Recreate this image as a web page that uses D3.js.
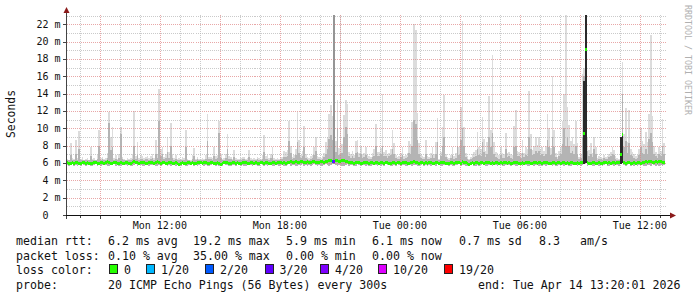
<!DOCTYPE html>
<html>
<head>
<meta charset="utf-8">
<script src="https://cdn.jsdelivr.net/npm/d3@7"></script>
<style>
  html, body { margin: 0; padding: 0; background: #fff; }
  svg { display: block; }
  text { font-family: "DejaVu Sans Mono", monospace; fill: #111; white-space: pre; }
</style>
</head>
<body>
<svg width="697" height="297"></svg>
<script>
// 5 minute steps, Mon 07:20 .. Tue 13:20
var startTime = new Date(2026, 3, 13, 7, 20, 1);
var endTime = new Date(2026, 3, 14, 13, 20, 1);
var STEP = 300 * 1000;

// highest ping of each step (ms)
var pingMax = [
  6.5,6.4,8.3,6.6,6.5,8.6,6.6,9.7,6.5,6.7,6.4,6.5,6.6,6.4,7.8,6.5,6.6,6.4,6.9,9.8,
  6.6,6.7,6.5,6.6,7.2,11.9,9.0,10.1,6.6,6.9,6.5,7.0,10.1,6.7,6.5,6.4,6.6,6.5,6.6,7.0,
  12.0,6.8,8.4,6.6,6.9,6.8,6.6,6.7,6.8,6.6,6.8,7.0,6.6,8.6,7.0,14.5,7.6,7.9,6.7,7.0,
  9.0,7.3,10.6,7.0,6.6,6.9,6.5,6.6,6.5,6.7,6.6,9.8,6.5,6.4,6.3,6.9,7.7,6.5,6.7,6.5,
  6.5,6.6,6.5,6.9,11.6,6.7,6.7,6.6,7.9,6.8,6.9,10.8,7.0,6.5,6.6,7.0,9.4,6.8,6.7,6.5,
  7.5,6.6,6.5,6.5,6.6,6.7,6.7,6.5,6.6,7.5,6.6,6.5,6.6,6.5,6.7,6.6,6.5,6.9,9.2,6.8,
  6.9,6.6,7.0,7.8,6.6,6.5,6.6,6.5,6.7,6.7,7.4,7.3,7.5,10.8,8.0,6.7,6.9,7.6,11.9,8.7,
  6.9,7.4,10.3,7.0,6.7,6.6,6.8,6.9,7.9,9.0,6.8,6.7,6.6,6.8,7.2,8.4,9.0,11.7,12.7,11.4,
  23.5,8.5,13.3,7.7,23.5,8.2,11.5,13.3,12.8,7.3,7.0,7.4,6.9,8.5,8.6,7.2,8.0,7.0,7.1,7.9,
  7.0,6.8,6.7,7.2,7.6,10.5,7.3,7.3,7.7,14.0,7.3,7.5,7.0,7.2,7.6,9.8,8.3,6.9,6.7,6.8,
  7.2,7.9,6.8,6.9,7.1,8.5,8.2,10.7,22.0,21.3,11.8,8.3,7.0,6.8,6.7,8.6,6.8,6.7,7.1,7.9,
  7.0,8.4,11.2,6.5,7.3,10.2,13.8,7.0,6.7,6.6,6.9,7.8,6.8,7.1,11.0,7.9,12.5,22.4,10.1,7.2,
  6.8,6.5,6.7,7.0,7.3,7.5,9.6,7.9,7.6,11.3,8.8,7.4,8.4,13.7,9.8,18.5,8.4,7.3,7.2,6.9,
  7.9,7.1,7.0,9.5,7.2,7.3,7.0,6.9,10.3,12.1,7.4,7.3,7.1,8.6,7.2,7.8,7.6,14.3,9.4,7.5,
  8.0,9.0,8.1,9.0,7.6,7.9,7.4,8.0,11.6,10.0,7.7,16.0,9.8,7.2,6.7,7.4,7.9,10.8,14.0,23.5,
  12.5,10.4,8.5,9.0,8.2,10.9,8.3,6.7,7.0,16.3,17.0,23.5,8.9,7.5,8.3,7.2,9.0,7.8,6.6,6.8,
  6.7,6.6,6.9,6.7,6.8,7.0,7.3,7.9,7.5,6.8,6.6,6.5,9.0,17.7,9.4,12.3,8.4,12.1,7.6,7.3,
  7.0,6.8,6.9,7.6,10.0,8.5,8.2,9.6,8.4,11.7,20.8,11.4,8.0,7.3,7.0,7.9,7.4,11.1,8.3,null
];

// upper edge of the denser part of the smoke (ms)
var pingMid = [
  6.4,6.3,6.9,6.4,6.3,7.0,6.4,7.6,6.4,6.4,6.3,6.4,6.4,6.3,6.8,6.4,6.4,6.3,6.5,8.0,
  6.4,6.5,6.4,6.4,6.6,10.6,7.5,7.8,6.4,6.5,6.4,6.6,9.3,6.5,6.4,6.3,6.4,6.4,6.4,6.5,
  8.0,6.5,6.9,6.4,6.5,6.5,6.4,6.5,6.5,6.4,6.5,6.6,6.4,7.0,6.6,10.8,6.8,7.0,6.5,6.6,
  7.3,6.6,8.0,6.6,6.4,6.5,6.3,6.4,6.3,6.4,6.4,7.8,6.3,6.3,6.2,6.5,6.8,6.4,6.5,6.4,
  6.4,6.4,6.4,6.5,8.5,6.5,6.5,6.4,6.8,6.5,6.6,9.5,6.6,6.4,6.4,6.6,7.6,6.5,6.5,6.4,
  6.7,6.4,6.4,6.4,6.4,6.5,6.5,6.4,6.4,6.7,6.4,6.4,6.4,6.4,6.5,6.4,6.4,6.5,7.3,6.5,
  6.5,6.4,6.6,6.9,6.4,6.4,6.4,6.4,6.5,6.5,6.7,6.7,6.8,8.5,7.2,6.5,6.6,6.9,8.4,7.2,
  6.6,6.8,7.8,6.6,6.5,6.4,6.5,6.6,6.9,7.4,6.5,6.5,6.4,6.5,6.7,7.0,7.6,8.8,9.2,8.6,
  23.5,7.3,10.0,6.9,7.0,7.2,9.0,10.2,9.4,6.8,6.6,6.8,6.6,7.2,7.3,6.7,7.0,6.6,6.7,6.9,
  6.6,6.5,6.5,6.7,6.8,8.0,6.8,6.8,7.0,8.0,6.8,6.8,6.6,6.8,6.9,7.6,7.0,6.6,6.5,6.5,
  6.7,6.9,6.5,6.6,6.7,7.1,7.0,8.0,11.0,10.5,8.6,7.0,6.6,6.5,6.5,7.0,6.5,6.5,6.6,6.9,
  6.6,7.0,8.4,6.4,6.8,8.0,9.0,6.7,6.5,6.4,6.6,6.9,6.5,6.6,8.0,6.9,8.6,10.0,8.0,6.7,
  6.5,6.4,6.5,6.6,6.7,6.8,7.6,6.9,6.8,8.4,7.3,6.7,7.0,9.0,7.8,9.5,7.0,6.7,6.6,6.5,
  6.9,6.6,6.6,7.6,6.7,6.8,6.6,6.5,7.8,8.0,6.8,6.8,6.6,7.2,6.7,6.9,6.8,9.0,7.6,6.9,
  7.0,7.4,7.1,7.4,6.9,7.0,6.8,7.0,8.6,7.8,6.9,9.0,7.8,6.7,6.5,6.8,7.0,8.2,10.0,8.0,
  9.0,8.0,7.2,7.4,7.0,8.0,7.0,6.5,6.6,9.0,16.0,23.5,7.4,6.8,7.0,6.7,7.6,7.0,6.4,6.5,
  6.5,6.4,6.6,6.5,6.5,6.7,6.8,7.0,6.9,6.5,6.4,6.4,9.0,14.0,7.8,8.5,7.2,8.3,6.9,6.8,
  6.6,6.5,6.6,6.9,7.8,7.2,7.0,7.6,7.0,8.8,9.5,8.4,7.0,6.8,6.6,7.0,6.8,8.0,7.0,null
];

// lowest ping of each step (ms)
var pingMin = [
  5.8,5.7,5.8,5.9,5.7,5.8,5.6,5.8,5.7,5.9,5.8,5.7,5.8,5.8,5.6,5.7,5.8,5.9,5.7,5.8,
  5.7,5.8,5.9,5.8,5.6,5.7,5.8,5.8,5.9,5.7,5.8,5.6,5.7,5.8,5.9,5.8,5.7,5.8,5.6,5.7,
  5.8,5.9,5.7,5.8,5.8,5.6,5.7,5.9,5.8,5.7,5.8,5.8,5.9,5.7,5.6,5.8,5.7,5.8,5.9,5.8,
  5.7,5.8,5.6,5.8,5.9,5.7,5.8,5.8,5.7,5.9,5.8,5.7,5.6,5.8,5.8,5.9,5.7,5.8,5.7,5.8,
  5.9,5.8,5.7,5.8,5.6,5.7,5.8,5.9,5.8,5.7,5.8,5.6,5.8,5.7,5.9,5.8,5.8,5.7,5.6,5.8,
  5.8,5.7,5.9,5.8,5.7,5.8,5.6,5.7,5.8,5.9,5.8,5.7,5.8,5.8,5.6,5.7,5.9,5.8,5.7,5.8,
  5.7,5.8,5.8,5.6,5.7,5.9,5.8,5.7,5.8,5.8,5.6,5.7,5.8,5.9,5.7,5.8,5.8,5.7,5.6,5.8,
  5.8,5.9,5.7,5.8,5.6,5.8,5.7,5.8,5.9,5.8,5.7,5.8,5.7,5.6,5.8,5.9,5.8,5.7,5.8,5.9,
  5.9,5.8,5.7,5.8,5.8,5.6,5.7,5.8,5.9,5.7,5.8,5.8,5.6,5.7,5.9,5.8,5.7,5.8,5.8,5.7,
  5.8,5.6,5.7,5.8,5.9,5.8,5.7,5.8,5.6,5.8,5.7,5.9,5.8,5.8,5.7,5.6,5.8,5.7,5.9,5.8,
  5.7,5.8,5.8,5.6,5.7,5.9,5.8,5.7,5.8,5.8,5.6,5.7,5.8,5.9,5.7,5.8,5.6,5.8,5.7,5.8,
  5.8,5.7,5.9,5.8,5.6,5.7,5.8,5.8,5.9,5.7,5.8,5.6,5.7,5.8,5.8,5.9,5.7,5.8,5.8,5.6,
  5.7,5.8,5.8,5.9,5.7,5.6,5.8,5.7,5.8,5.9,5.8,5.7,5.6,5.8,5.8,5.7,5.9,5.8,5.7,5.8,
  5.8,5.7,5.6,5.8,5.9,5.8,5.7,5.8,5.8,5.6,5.7,5.9,5.8,5.7,5.8,5.8,5.6,5.7,5.9,5.8,
  5.7,5.8,5.9,5.7,5.8,5.6,5.8,5.7,5.8,5.9,5.8,5.7,5.8,5.6,5.7,5.8,5.9,5.8,5.7,5.8,
  5.8,5.6,5.7,5.8,5.9,5.8,5.7,5.8,5.6,5.8,5.9,6.0,5.7,5.8,5.8,5.6,5.7,5.9,5.8,5.7,
  5.8,5.7,5.8,5.9,5.6,5.7,5.8,5.8,5.7,5.9,5.8,5.6,5.9,6.0,5.8,5.7,5.8,5.9,5.7,5.8,
  5.6,5.8,5.7,5.8,5.9,5.8,5.7,5.6,5.8,5.8,5.7,5.9,5.8,5.7,5.8,5.6,5.8,5.7,5.8,null
];

// median rtt of each step (ms)
var median = [
  6.1,6.0,6.0,6.1,6.0,6.1,6.1,6.0,6.0,6.1,6.1,6.0,6.1,6.0,6.0,6.0,6.1,6.1,6.0,6.0,
  6.1,6.1,6.0,6.1,6.2,6.1,6.0,6.0,6.1,6.1,6.0,6.0,6.1,6.0,6.0,6.1,6.1,6.0,6.0,6.1,
  6.2,6.1,6.1,6.0,6.1,6.1,6.1,6.0,6.0,6.1,6.1,6.1,6.0,6.1,6.2,6.1,6.0,6.1,6.1,6.0,
  6.0,6.1,6.1,6.0,6.0,6.1,6.0,5.9,6.0,6.1,6.0,6.0,6.1,6.1,6.0,6.1,6.0,6.0,6.1,6.1,
  6.1,6.0,6.1,6.1,6.0,6.0,6.1,6.1,6.0,6.0,6.1,6.0,5.9,6.0,6.1,6.1,6.1,6.0,6.0,6.1,
  6.1,6.0,6.1,6.0,6.0,6.1,6.1,6.1,6.0,6.0,6.1,6.1,6.0,6.1,6.0,6.0,6.1,6.1,6.0,6.1,
  6.1,6.0,6.0,6.1,6.1,6.0,6.1,6.1,6.1,6.0,6.1,6.0,6.1,6.1,6.2,6.1,6.1,6.2,6.1,6.1,
  6.2,6.2,6.1,6.1,6.2,6.1,6.1,6.2,6.2,6.1,6.1,6.1,6.2,6.2,6.1,6.2,6.2,6.3,6.3,6.2,
  6.2,6.3,6.3,6.2,6.2,6.3,6.3,6.2,6.2,6.1,6.1,6.1,6.0,6.1,6.1,6.1,6.0,6.0,6.1,6.1,
  6.1,6.0,6.1,6.1,6.0,6.1,6.1,6.0,6.1,6.1,6.0,6.1,6.1,6.0,6.0,6.1,6.1,6.0,6.1,6.1,
  6.0,6.1,6.1,6.1,6.0,6.0,6.1,6.1,6.2,6.1,6.1,6.0,6.1,6.1,6.0,6.1,6.0,6.1,6.1,6.0,
  6.0,6.1,6.1,6.0,6.1,6.1,6.1,6.0,6.0,6.0,6.1,6.1,6.0,6.1,6.1,6.1,6.0,6.2,6.1,6.1,
  6.0,5.9,6.0,6.1,6.0,6.1,6.1,6.0,6.1,6.1,6.0,6.1,6.1,6.1,6.0,6.1,6.0,6.1,6.1,6.0,
  6.1,6.0,6.1,6.1,6.0,6.1,6.0,6.0,6.1,6.1,6.1,6.0,6.0,6.1,6.0,6.1,6.1,6.1,6.0,6.0,
  6.1,6.1,6.0,6.1,6.1,6.0,6.1,6.1,6.1,6.0,6.0,6.1,6.1,6.0,6.1,6.1,6.0,6.1,6.1,6.0,
  6.1,6.0,6.1,6.1,6.0,6.0,6.1,6.0,6.1,6.1,9.5,19.1,6.1,6.0,6.0,6.1,6.1,6.0,6.0,6.1,
  6.0,6.0,6.1,6.1,6.0,6.1,6.0,6.1,6.1,6.0,6.1,6.1,7.0,9.3,6.1,6.0,6.1,6.1,6.0,6.0,
  6.1,6.0,6.1,6.1,6.0,6.1,6.1,6.2,6.1,6.2,6.2,6.1,6.1,6.2,6.1,6.2,6.2,6.1,6.1,null
];

// steps where nearly all pings were slow: dark core of the smoke
var coreSteps = [160, 310, 311, 332, 333];
var coreTop = [23.5, 15.5, 23.5, 9.0, 9.3];

// lost pings (out of 20)
var lossSteps = [159, 160];
var lossCount = [2, 7];

// loss colour legend
var lossLevels = [0, 1, 2, 3, 4, 10, 19];
var lossLabels = ["0", "1/20", "2/20", "3/20", "4/20", "10/20", "19/20"];
var lossColors = ["#26ff00", "#00b8ff", "#0059ff", "#5e00ff", "#7e00ff", "#dd00ff", "#ff0000"];

var yTicks = [0, 2, 4, 6, 8, 10, 12, 14, 16, 18, 20, 22];

var statsRtt = ["median rtt:", "6.2 ms avg", "19.2 ms max", "5.9 ms min", "6.1 ms now", "0.7 ms sd", "8.3", "am/s"];
var statsLoss = ["packet loss:", "0.10 % avg", "35.00 % max", "0.00 % min", "0.00 % now"];
var probeText = "20 ICMP Echo Pings (56 Bytes) every 300s";
var endText = "end: Tue Apr 14 13:20:01 2026";

var svg = d3.select("svg");

var plotLeft = 66.5, plotRight = 666.5, plotTop = 15, plotBottom = 215;

var x = d3.scaleTime().domain([startTime, endTime]).range([plotLeft, plotRight]);
var y = d3.scaleLinear().domain([0, 23.07]).range([plotBottom, plotTop]);

function stepTime(i) { return new Date(+startTime + i * STEP); }
function colX(i) { return Math.round(x(stepTime(i))); }
function colW(i) { return Math.round(x(stepTime(i + 1))) - Math.round(x(stepTime(i))); }

svg.append("defs").append("clipPath").attr("id", "plot")
    .append("rect").attr("x", plotLeft).attr("y", plotTop)
    .attr("width", plotRight - plotLeft).attr("height", plotBottom - plotTop);

var plot = svg.append("g").attr("clip-path", "url(#plot)")
    .attr("shape-rendering", "crispEdges");

var steps = d3.range(pingMax.length).filter(function (i) { return pingMax[i] != null; });

// smoke: outer (light) part
plot.selectAll("rect.light").data(steps).enter().append("rect")
    .attr("class", "light")
    .attr("x", colX).attr("width", colW)
    .attr("y", function (i) { return y(pingMax[i]); })
    .attr("height", function (i) { return y(pingMin[i]) - y(pingMax[i]); })
    .attr("fill", "#dcdcdc");

// smoke: inner part
plot.selectAll("rect.mid").data(steps).enter().append("rect")
    .attr("class", "mid")
    .attr("x", colX).attr("width", colW)
    .attr("y", function (i) { return y(pingMid[i]); })
    .attr("height", function (i) { return y(pingMin[i]) - y(pingMid[i]); })
    .attr("fill", "#b4b4b4");

// grid over the smoke, semi transparent like rrdtool's
var grid = svg.append("g").attr("shape-rendering", "crispEdges");
var hours = d3.timeHour.range(startTime, endTime);
var yMinor = d3.range(1, 24);

grid.selectAll("line.hy").data(yMinor).enter().append("line")
    .attr("x1", plotLeft).attr("x2", plotRight)
    .attr("y1", function (v) { return Math.round(y(v)) + 0.5; })
    .attr("y2", function (v) { return Math.round(y(v)) + 0.5; })
    .attr("stroke", function (v) { return v % 2 === 0 ? "rgba(222,130,130,0.7)" : "rgba(180,180,180,0.7)"; })
    .attr("stroke-dasharray", "1,1");

grid.selectAll("line.vx").data(hours).enter().append("line")
    .attr("x1", function (d) { return Math.round(x(d)) + 0.5; })
    .attr("x2", function (d) { return Math.round(x(d)) + 0.5; })
    .attr("y1", plotTop).attr("y2", plotBottom)
    .attr("stroke", function (d) { return d.getHours() % 3 === 0 ? "rgba(222,130,130,0.7)" : "rgba(180,180,180,0.7)"; })
    .attr("stroke-dasharray", "1,1");

// dark core and median on top
var front = svg.append("g").attr("clip-path", "url(#plot)")
    .attr("shape-rendering", "crispEdges");

front.selectAll("rect.core").data(coreSteps).enter().append("rect")
    .attr("class", "core")
    .attr("x", colX).attr("width", colW)
    .attr("y", function (i, k) { return y(coreTop[k]); })
    .attr("height", function (i, k) { return y(pingMin[i]) - y(coreTop[k]); })
    .attr("fill", function (i) { return i < 200 ? "#959595" : "#2a2a2a"; });

function lossColor(i) {
    var k = lossSteps.indexOf(i);
    var n = k < 0 ? 0 : lossCount[k];
    var c = lossColors[0];
    lossLevels.forEach(function (lv, j) { if (n >= lv) c = lossColors[j]; });
    return c;
}
front.selectAll("rect.med").data(steps).enter().append("rect")
    .attr("class", "med")
    .attr("x", colX).attr("width", colW)
    .attr("y", function (i) { return Math.round(y(median[i])) - 1.5; })
    .attr("height", 3)
    .attr("fill", lossColor);

// axes
var axes = svg.append("g").attr("shape-rendering", "crispEdges");
axes.append("line").attr("x1", 66.5).attr("x2", 66.5).attr("y1", 11).attr("y2", 218.5)
    .attr("stroke", "#444");
axes.append("line").attr("x1", 63).attr("x2", 671).attr("y1", 215.5).attr("y2", 215.5)
    .attr("stroke", "#111");

axes.selectAll("line.ty").data(yTicks).enter().append("line")
    .attr("x1", 63).attr("x2", 66)
    .attr("y1", function (v) { return Math.round(y(v)) + 0.5; })
    .attr("y2", function (v) { return Math.round(y(v)) + 0.5; })
    .attr("stroke", "#444");

axes.selectAll("line.tx").data(hours).enter().append("line")
    .attr("x1", function (d) { return Math.round(x(d)) + 0.5; })
    .attr("x2", function (d) { return Math.round(x(d)) + 0.5; })
    .attr("y1", 216)
    .attr("y2", function (d) { return d.getHours() % 3 === 0 ? 219 : 218; })
    .attr("stroke", "#444");

svg.append("path").attr("d", "M63.5,13L66.5,7L69.5,13Z").attr("fill", "#8b1a1a");
svg.append("path").attr("d", "M670,212.5L676,215.5L670,218.5Z").attr("fill", "#8b1a1a");

// tick labels
function yLabel(v) { return v === 0 ? " 0  " : d3.format("2d")(v) + " m"; }
svg.selectAll("text.yl").data(yTicks).enter().append("text")
    .attr("x", 36.5)
    .attr("y", function (v) { return y(v) + 3.5; })
    .attr("font-size", "10px")
    .text(yLabel);

var fmt = d3.timeFormat("%a %H:%M");
svg.selectAll("text.xl").data(hours.filter(function (d) { return d.getHours() % 6 === 0; }))
    .enter().append("text")
    .attr("x", function (d) { return x(d); })
    .attr("y", 228.5)
    .attr("text-anchor", "middle")
    .attr("font-size", "10px")
    .text(fmt);

svg.append("text")
    .attr("transform", "translate(15,114) rotate(-90)")
    .attr("text-anchor", "middle")
    .attr("font-size", "11.4px")
    .text("Seconds");

svg.append("text")
    .attr("transform", "translate(684.5,5) rotate(90)")
    .attr("font-size", "8.3px")
    .style("fill", "#b0b0b0")
    .text("RRDTOOL / TOBI OETIKER");

// legend
var legend = svg.append("g").attr("font-size", "11.6px");
var rttX = [16, 108, 193, 286, 372, 459, 539, 580];
statsRtt.forEach(function (t, i) {
    legend.append("text").attr("x", rttX[i]).attr("y", 245).text(t);
});
statsLoss.forEach(function (t, i) {
    legend.append("text").attr("x", rttX[i]).attr("y", 259.5).text(t);
});
legend.append("text").attr("x", 16).attr("y", 274).text("loss color:");
var boxX = [109, 146, 205, 264.5, 320, 378, 444];
lossLabels.forEach(function (t, i) {
    legend.append("rect").attr("x", boxX[i] + 0.5).attr("y", 264.5)
        .attr("width", 8).attr("height", 9)
        .attr("fill", lossColors[i]).attr("stroke", "#222")
        .attr("shape-rendering", "crispEdges");
    legend.append("text").attr("x", boxX[i] + 15).attr("y", 274).text(t);
});
legend.append("text").attr("x", 16).attr("y", 288.5).text("probe:");
legend.append("text").attr("x", 108).attr("y", 288.5).text(probeText);
legend.append("text").attr("x", 478).attr("y", 288.5).text(endText);
</script>
</body>
</html>
